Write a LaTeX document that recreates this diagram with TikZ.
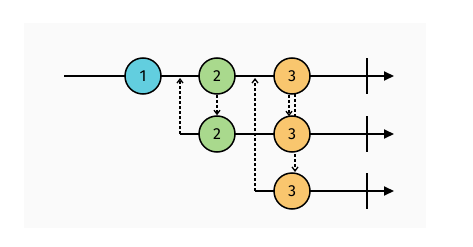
\documentclass[tikz,border=0pt]{standalone}
\usepackage{fontspec}
\setmainfont{Fira Sans}
\usepackage{xcolor}
\usepackage{tikz}
\usetikzlibrary{calc, arrows.meta}

\definecolor{bgGray}{HTML}{FAFAFA}
\definecolor{itemBlue}{HTML}{62CEDF}
\definecolor{itemGreen}{HTML}{A9D98D}
\definecolor{itemOrange}{HTML}{F9C66E}

\tikzset{
    item/.style={circle, draw=black, line width=1.5pt, minimum size=36pt, inner sep=0pt, font=\fontsize{16}{16}\selectfont},
    timeline/.style={line width=2pt, -{Triangle[length=10pt, width=9pt]}},
    emit/.style={dashed, line width=1.3pt, dash pattern=on 3pt off 2pt, -{Straight Barb[length=4pt, width=6pt]}},
    finish/.style={line width=2pt}
}

\begin{document}
\begin{tikzpicture}[x=1pt, y=-1pt]
    % cadre et fond
    \useasboundingbox (0,0) rectangle (473,246);
    \fill[bgGray] (24,23) rectangle (426,228);

    % points des lignes
    \coordinate (S1) at (64,76);
    \coordinate (E1) at (394,76);
    \coordinate (S2) at (180,134);
    \coordinate (E2) at (394,134);
    \coordinate (S3) at (255,191);
    \coordinate (E3) at (394,191);

    % les trois lignes du temps
    \draw[timeline] (S1) -- (E1);
    \draw[timeline] (S2) -- (E2);
    \draw[timeline] (S3) -- (E3);

    % fin de flux
    \foreach \y in {76,134,191}
        \draw[finish] (367,\y-18) -- (367,\y+18);

    % abonnements (nets en pointilles)
    \draw[emit] (S2) -- (180,78);
    \draw[emit] (S3) -- (255,78);
    \draw[emit] (295,94) -- (295,172);

    % valeurs
    \node[item, fill=itemBlue] (a1) at (143,76) {1};
    \node[item, fill=itemGreen] (b1) at (217,76) {2};
    \node[item, fill=itemOrange] (c1) at (292,76) {3};
    \node[item, fill=itemGreen] (b2) at (217,134) {2};
    \node[item, fill=itemOrange] (c2) at (292,134) {3};
    \node[item, fill=itemOrange] (c3) at (292,191) {3};

    % propagation
    \draw[emit] (b1) -- (b2);
    \draw[emit] ($(c1.south)+(-3,0)$) -- ($(c2.north)+(-3,1)$);
\end{tikzpicture}
\end{document}
